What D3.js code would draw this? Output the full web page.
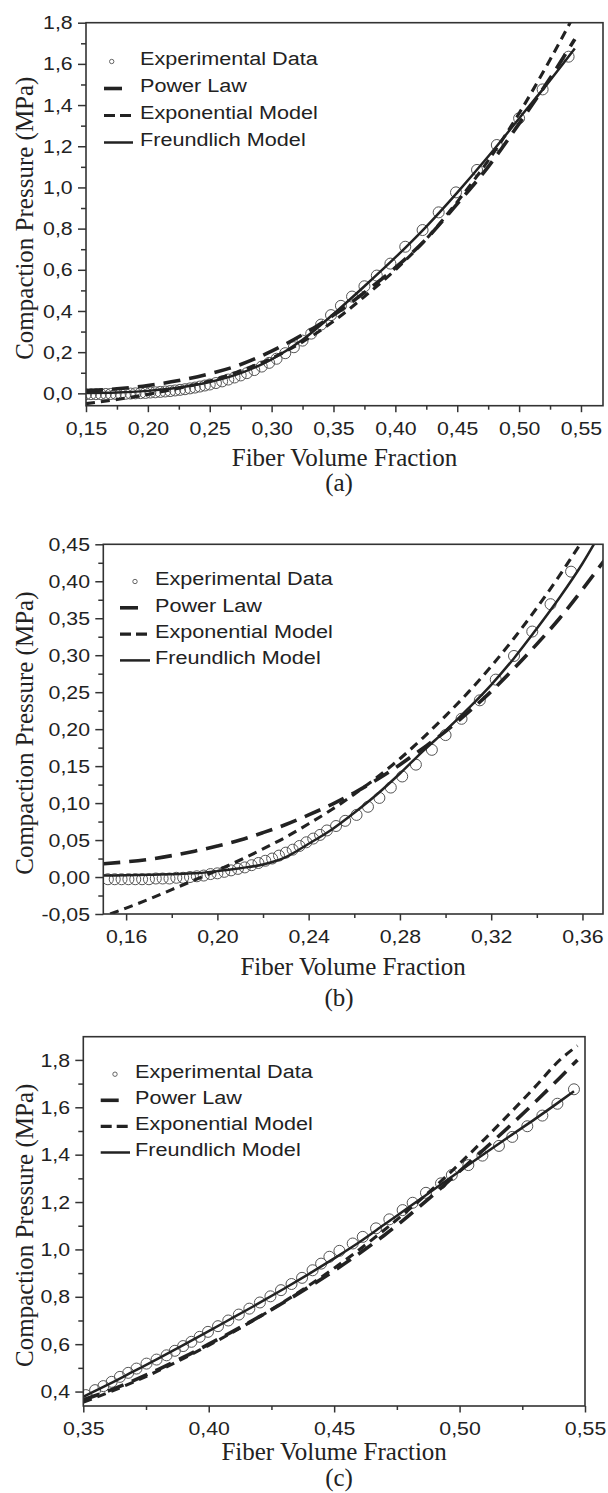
<!DOCTYPE html>
<html>
<head>
<meta charset="utf-8">
<script src="https://cdnjs.cloudflare.com/ajax/libs/d3/7.8.5/d3.min.js"></script>
<style>
  body { margin: 0; background: #fff; }
  .tick-label { font-family: "Liberation Sans", Arial, sans-serif; font-size: 19px; fill: #222; }
  .legend-label { font-family: "Liberation Sans", Arial, sans-serif; font-size: 18px; fill: #222; }
  .axis-title { font-family: "Liberation Serif", "Times New Roman", serif; font-size: 25px; fill: #222; }
</style>
</head>
<body>
<svg id="chart" width="608" height="1493"></svg>
<script>

// ---- panel (a) ----
const expA = [[0.150,-0.004],[0.154,-0.004],[0.158,-0.004],[0.162,-0.004],[0.166,-0.003],[0.170,-0.003],[0.174,-0.003],[0.178,-0.002],[0.182,-0.002],[0.186,-0.001],[0.190,0.000],[0.194,0.001],[0.198,0.002],[0.202,0.004],[0.206,0.005],[0.210,0.007],[0.214,0.009],[0.218,0.011],[0.222,0.014],[0.226,0.017],[0.230,0.020],[0.234,0.024],[0.238,0.028],[0.242,0.033],[0.246,0.038],[0.250,0.043],[0.255,0.050],[0.260,0.058],[0.265,0.067],[0.270,0.077],[0.275,0.087],[0.280,0.098],[0.286,0.113],[0.292,0.130],[0.298,0.148],[0.304,0.168],[0.311,0.195],[0.318,0.224],[0.325,0.256],[0.332,0.290],[0.340,0.334],[0.348,0.380],[0.356,0.425],[0.365,0.470],[0.375,0.520],[0.385,0.572],[0.396,0.630],[0.408,0.712],[0.422,0.793],[0.435,0.879],[0.449,0.976],[0.466,1.085],[0.482,1.206],[0.500,1.336],[0.519,1.476],[0.540,1.635]];
const powerA = [[0.150,0.012],[0.175,0.022],[0.200,0.038],[0.225,0.062],[0.250,0.095],[0.275,0.140],[0.300,0.205],[0.325,0.285],[0.350,0.380],[0.375,0.490],[0.400,0.610],[0.425,0.750],[0.450,0.920],[0.475,1.100],[0.500,1.310],[0.525,1.530],[0.545,1.720]];
const exponA = [[0.150,-0.050],[0.175,-0.030],[0.200,-0.005],[0.225,0.025],[0.250,0.060],[0.275,0.110],[0.300,0.170],[0.325,0.250],[0.350,0.350],[0.375,0.470],[0.400,0.600],[0.425,0.750],[0.450,0.930],[0.475,1.130],[0.500,1.360],[0.525,1.620],[0.550,1.900]];
const freundA = [[0.150,0.002],[0.175,0.004],[0.200,0.012],[0.225,0.028],[0.250,0.055],[0.275,0.098],[0.300,0.165],[0.325,0.260],[0.350,0.385],[0.375,0.520],[0.400,0.660],[0.425,0.810],[0.450,0.975],[0.475,1.150],[0.500,1.335],[0.525,1.520],[0.545,1.675]];
const xTicksA = [0.15,0.20,0.25,0.30,0.35,0.40,0.45,0.50,0.55];
const xMinorA = [0.175,0.225,0.275,0.325,0.375,0.425,0.475,0.525];
const yTicksA = [0.0,0.2,0.4,0.6,0.8,1.0,1.2,1.4,1.6,1.8];
const yMinorA = [0.1,0.3,0.5,0.7,0.9,1.1,1.3,1.5,1.7];

// ---- panel (b) ----
const expB = [[0.152,-0.003],[0.155,-0.003],[0.158,-0.003],[0.161,-0.003],[0.164,-0.003],[0.167,-0.003],[0.170,-0.003],[0.173,-0.002],[0.176,-0.002],[0.179,-0.002],[0.182,-0.001],[0.185,-0.001],[0.188,0.000],[0.191,0.001],[0.194,0.002],[0.197,0.004],[0.200,0.005],[0.203,0.007],[0.206,0.009],[0.209,0.011],[0.212,0.013],[0.215,0.016],[0.218,0.019],[0.221,0.022],[0.224,0.025],[0.227,0.029],[0.230,0.033],[0.233,0.037],[0.236,0.042],[0.239,0.047],[0.242,0.052],[0.245,0.057],[0.248,0.063],[0.252,0.069],[0.256,0.076],[0.261,0.084],[0.266,0.095],[0.271,0.107],[0.276,0.121],[0.281,0.136],[0.287,0.152],[0.294,0.172],[0.300,0.192],[0.307,0.214],[0.315,0.239],[0.322,0.267],[0.330,0.299],[0.338,0.332],[0.346,0.369],[0.355,0.413]];
const powerB = [[0.150,0.018],[0.170,0.024],[0.190,0.035],[0.200,0.042],[0.210,0.050],[0.220,0.060],[0.230,0.071],[0.240,0.084],[0.250,0.098],[0.260,0.114],[0.270,0.132],[0.280,0.152],[0.290,0.174],[0.300,0.197],[0.310,0.223],[0.320,0.251],[0.330,0.282],[0.340,0.315],[0.350,0.350],[0.360,0.389],[0.370,0.430]];
const exponB = [[0.153,-0.050],[0.160,-0.042],[0.170,-0.030],[0.180,-0.017],[0.190,-0.004],[0.200,0.009],[0.210,0.023],[0.220,0.038],[0.230,0.054],[0.240,0.072],[0.250,0.091],[0.260,0.112],[0.270,0.135],[0.280,0.160],[0.290,0.188],[0.300,0.218],[0.310,0.250],[0.320,0.285],[0.330,0.323],[0.340,0.364],[0.350,0.408],[0.360,0.455]];
const freundB = [[0.150,0.002],[0.170,0.003],[0.190,0.005],[0.200,0.008],[0.210,0.012],[0.220,0.017],[0.230,0.027],[0.240,0.045],[0.250,0.064],[0.260,0.087],[0.270,0.112],[0.280,0.140],[0.290,0.170],[0.300,0.198],[0.310,0.228],[0.320,0.260],[0.330,0.296],[0.340,0.336],[0.350,0.378],[0.360,0.424],[0.365,0.450]];
const xTicksB = [0.16,0.20,0.24,0.28,0.32,0.36];
const xMinorB = [0.18,0.22,0.26,0.30,0.34];
const yTicksB = [-0.05,0.00,0.05,0.10,0.15,0.20,0.25,0.30,0.35,0.40,0.45];
const yMinorB = [-0.025,0.025,0.075,0.125,0.175,0.225,0.275,0.325,0.375,0.425];

// ---- panel (c) ----
const expC = [[0.351,0.385],[0.3547,0.406],[0.358,0.423],[0.3613,0.441],[0.3646,0.462],[0.3679,0.479],[0.3712,0.497],[0.3752,0.518],[0.3792,0.535],[0.3832,0.553],[0.3865,0.572],[0.3898,0.592],[0.3931,0.610],[0.3964,0.631],[0.3997,0.652],[0.4037,0.676],[0.4078,0.700],[0.4120,0.725],[0.4162,0.750],[0.4204,0.776],[0.4246,0.802],[0.4288,0.828],[0.4330,0.854],[0.4372,0.880],[0.4414,0.912],[0.4448,0.940],[0.4481,0.969],[0.4521,0.994],[0.4574,1.025],[0.4614,1.053],[0.4667,1.089],[0.4720,1.127],[0.4773,1.166],[0.4813,1.197],[0.4866,1.239],[0.4926,1.279],[0.4969,1.314],[0.5035,1.356],[0.5091,1.396],[0.5157,1.437],[0.5210,1.475],[0.5270,1.520],[0.5330,1.565],[0.5390,1.615],[0.5456,1.676]];
const powerC = [[0.350,0.365],[0.360,0.403],[0.370,0.446],[0.380,0.494],[0.390,0.545],[0.400,0.600],[0.410,0.656],[0.420,0.715],[0.430,0.777],[0.440,0.842],[0.450,0.910],[0.460,0.983],[0.470,1.060],[0.480,1.145],[0.490,1.235],[0.500,1.330],[0.510,1.425],[0.520,1.521],[0.530,1.621],[0.540,1.725],[0.547,1.800]];
const exponC = [[0.350,0.355],[0.360,0.396],[0.370,0.440],[0.380,0.488],[0.390,0.540],[0.400,0.595],[0.410,0.653],[0.420,0.714],[0.430,0.779],[0.440,0.848],[0.450,0.921],[0.460,0.999],[0.470,1.082],[0.480,1.170],[0.490,1.263],[0.500,1.362],[0.510,1.466],[0.520,1.574],[0.530,1.685],[0.540,1.800],[0.547,1.860]];
const freundC = [[0.350,0.378],[0.360,0.430],[0.370,0.485],[0.380,0.540],[0.390,0.597],[0.400,0.655],[0.410,0.714],[0.420,0.773],[0.430,0.834],[0.440,0.897],[0.450,0.962],[0.460,1.030],[0.470,1.105],[0.480,1.180],[0.490,1.255],[0.500,1.330],[0.510,1.405],[0.520,1.478],[0.530,1.550],[0.540,1.625],[0.5456,1.668]];
const xTicksC = [0.35,0.40,0.45,0.50,0.55];
const xMinorC = [0.375,0.425,0.475,0.525];
const yTicksC = [0.4,0.6,0.8,1.0,1.2,1.4,1.6,1.8];
const yMinorC = [0.5,0.7,0.9,1.1,1.3,1.5,1.7];

const legendNames = ["Experimental Data", "Power Law", "Exponential Model", "Freundlich Model"];
const xTitle = "Fiber Volume Fraction";
const yTitle = "Compaction Pressure (MPa)";

const ink = "#222";

let svg = d3.select("#chart");
let defs = svg.append("defs");

function comma(d, digits) { return d.toFixed(digits).replace(".", ","); }

// the original lettering is a bit wider than Arial, so widen it a little
function stretch(sel, k) {
  sel.each(function() {
    let len = this.getComputedTextLength();
    d3.select(this).attr("textLength", len * k).attr("lengthAdjust", "spacingAndGlyphs");
  });
}

function drawPanel(p) {
  let x = d3.scaleLinear().domain(p.xDomain).range([p.left, p.right]);
  let y = d3.scaleLinear().domain(p.yDomain).range([p.bottom, p.top]);

  defs.append("clipPath").attr("id", "clip-" + p.id)
    .append("rect")
    .attr("x", p.left).attr("y", p.top)
    .attr("width", p.right - p.left).attr("height", p.bottom - p.top);

  let g = svg.append("g");

  // minor ticks
  g.append("g").attr("transform", "translate(0," + p.bottom + ")")
    .call(d3.axisBottom(x).tickValues(p.xMinor).tickSize(4).tickFormat(""));
  g.append("g").attr("transform", "translate(" + p.left + ",0)")
    .call(d3.axisLeft(y).tickValues(p.yMinor).tickSize(5).tickFormat(""));

  // major ticks + labels
  let xAxis = g.append("g").attr("transform", "translate(0," + p.bottom + ")")
    .call(d3.axisBottom(x).tickValues(p.xTicks).tickSize(6.5).tickPadding(9)
      .tickFormat(d => comma(d, 2)));
  let yAxis = g.append("g").attr("transform", "translate(" + p.left + ",0)")
    .call(d3.axisLeft(y).tickValues(p.yTicks).tickSize(8).tickPadding(5.3)
      .tickFormat(d => comma(d, p.yDigits)));

  g.selectAll(".domain").remove();
  g.selectAll(".tick line").attr("stroke", "#333").attr("stroke-width", 1.5);
  g.selectAll("g").attr("font-size", null).attr("font-family", null);
  g.selectAll(".tick text").attr("class", "tick-label").attr("fill", ink);
  stretch(xAxis.selectAll(".tick text"), 1.12);
  stretch(yAxis.selectAll(".tick text"), 1.12);

  let plot = g.append("g").attr("clip-path", "url(#clip-" + p.id + ")");

  plot.selectAll("circle.obs")
    .data(p.exp)
    .enter().append("circle")
    .attr("class", "obs")
    .attr("cx", d => x(d[0]))
    .attr("cy", d => y(d[1]))
    .attr("r", 5.5)
    .attr("fill", "none")
    .attr("stroke", "#555")
    .attr("stroke-width", 1);

  let line = d3.line().curve(d3.curveMonotoneX)
    .x(d => x(d[0]))
    .y(d => y(d[1]));

  p.series.forEach(function(s) {
    plot.append("path")
      .datum(s.data)
      .attr("d", line)
      .attr("fill", "none")
      .attr("stroke", ink)
      .attr("stroke-width", s.width)
      .attr("stroke-dasharray", s.dash);
  });

  // frame
  g.append("rect")
    .attr("x", p.left).attr("y", p.top)
    .attr("width", p.right - p.left).attr("height", p.bottom - p.top)
    .attr("fill", "none").attr("stroke", "#333").attr("stroke-width", 1.6);

  // legend
  let lg = g.append("g");
  legendNames.forEach(function(name, i) {
    let cy = p.legend.row0 + i * p.legend.step;
    if (i === 0) {
      lg.append("circle")
        .attr("cx", p.legend.circleX).attr("cy", cy + 2.5).attr("r", 2.2)
        .attr("fill", "none").attr("stroke", "#555").attr("stroke-width", 0.9);
    } else {
      let s = p.series[i - 1];
      lg.append("line")
        .attr("x1", p.legend.x0).attr("x2", p.legend.x1)
        .attr("y1", cy + 2.5).attr("y2", cy + 2.5)
        .attr("stroke", ink).attr("stroke-width", s.width)
        .attr("stroke-dasharray", s.legendDash);
    }
    lg.append("text")
      .attr("class", "legend-label")
      .attr("x", p.legend.textX)
      .attr("y", cy + 6.4)
      .text(name);
  });
  stretch(lg.selectAll("text"), 1.2);

  // axis titles
  g.append("text").attr("class", "axis-title")
    .attr("x", (p.left + p.right) / 2).attr("y", p.xTitleY)
    .attr("text-anchor", "middle").text(xTitle);
  g.append("text").attr("class", "axis-title")
    .attr("transform", "translate(33," + ((p.top + p.bottom) / 2 + 4) + ") rotate(-90)")
    .attr("text-anchor", "middle").text(yTitle);
  g.append("text").attr("class", "axis-title")
    .attr("x", 339).attr("y", p.tagY)
    .attr("text-anchor", "middle").text(p.tag);
}

function seriesFor(power, expon, freund) {
  return [
    { data: power, width: 3.6, dash: "17,9", legendDash: "18,12" },
    { data: expon, width: 3.1, dash: "9,6", legendDash: "11,5" },
    { data: freund, width: 2.5, dash: null, legendDash: null }
  ];
}

drawPanel({
  id: "a", tag: "(a)",
  left: 86, right: 603, top: 22.7, bottom: 405.7,
  xDomain: [0.15, 0.5678], yDomain: [-0.06, 1.8], yDigits: 1,
  xTicks: xTicksA, xMinor: xMinorA, yTicks: yTicksA, yMinor: yMinorA,
  exp: expA, series: seriesFor(powerA, exponA, freundA),
  legend: { textX: 140, x0: 104, x1: 133, circleX: 111.7, row0: 59, step: 27 },
  xTitleY: 466, tagY: 491
});

drawPanel({
  id: "b", tag: "(b)",
  left: 103.3, right: 603, top: 544.3, bottom: 914,
  xDomain: [0.15, 0.369], yDomain: [-0.05, 0.45], yDigits: 2,
  xTicks: xTicksB, xMinor: xMinorB, yTicks: yTicksB, yMinor: yMinorB,
  exp: expB, series: seriesFor(powerB, exponB, freundB),
  legend: { textX: 155, x0: 120, x1: 150, circleX: 135, row0: 579, step: 26.3 },
  xTitleY: 975, tagY: 1006
});

drawPanel({
  id: "c", tag: "(c)",
  left: 83.3, right: 585, top: 1036.7, bottom: 1406,
  xDomain: [0.35, 0.55], yDomain: [0.339, 1.898], yDigits: 1,
  xTicks: xTicksC, xMinor: xMinorC, yTicks: yTicksC, yMinor: yMinorC,
  exp: expC, series: seriesFor(powerC, exponC, freundC),
  legend: { textX: 135, x0: 100.7, x1: 130, circleX: 115, row0: 1071.7, step: 26.1 },
  xTitleY: 1460, tagY: 1486
});

</script>
</body>
</html>
